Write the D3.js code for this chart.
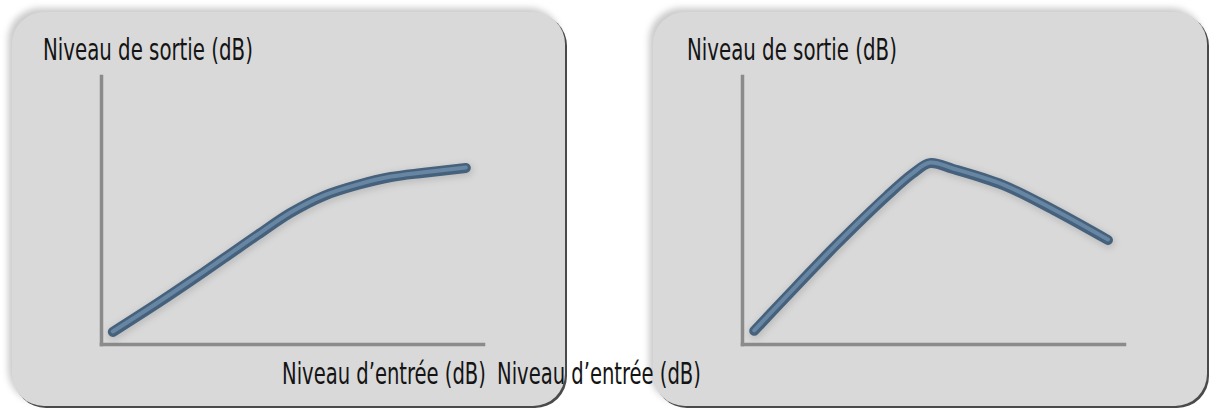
<!DOCTYPE html>
<html>
<head>
<meta charset="utf-8">
<script src="https://cdn.jsdelivr.net/npm/d3@7"></script>
<style>
  body { margin: 0; background: #fff; }
  .lbl { font-family: "Liberation Sans Narrow", "DejaVu Sans Condensed", "Roboto", sans-serif; font-size: 31px; fill: #141414; }
  .axis path { stroke: #8b8b8b; stroke-width: 3.5; }
</style>
</head>
<body>
<div id="chart"></div>
<script>
// labels
const yLabel = "Niveau de sortie (dB)";
const xLabel = "Niveau d’entrée (dB)";

// left panel: compression (input -> output, %)
const inputA = [3.1, 14.9, 23.6, 32.2, 41.1, 49.7, 58.4, 67.3, 75.9, 84.6, 95.5];
const outputA = [4.5, 15.3, 23.6, 32.0, 40.8, 49.0, 55.3, 59.4, 62.3, 63.9, 65.7];

// right panel: rises then falls
const inputB = [3.2, 11.6, 24.7, 37.9, 44.7, 49.2, 55.3, 68.4, 81.6, 95.8];
const outputB = [4.9, 17.6, 37.0, 55.2, 63.6, 67.5, 65.3, 59.3, 50.0, 38.8];

const W = 1209, H = 410;

const svg = d3.select("#chart").append("svg")
    .attr("width", W)
    .attr("height", H);

const defs = svg.append("defs");
defs.append("filter").attr("id", "soft")
    .attr("x", "-10%").attr("y", "-10%").attr("width", "120%").attr("height", "120%")
    .append("feGaussianBlur").attr("stdDeviation", 3);

// panel layout
let panels = [
    {px: 12, w: 553, xs: inputA, ys: outputA, yLabX: 43, xLabX: 282},
    {px: 653, w: 554, xs: inputB, ys: outputB, yLabX: 687, xLabX: 497}
];
const py = 12, ph = 394, radius = 32;
const axisBottom = 344, axisTop = 76;

// squeeze a label to a given width (the original uses a condensed face)
function narrowText(sel, x, y, str, width) {
    let t = sel.append("text")
        .attr("class", "lbl")
        .text(str);
    let natural = t.node().getComputedTextLength();
    t.attr("transform", `translate(${x},${y}) scale(${width / natural},1)`);
    return t;
}

// panel backgrounds
panels.forEach(p => {
    svg.append("rect")
        .attr("x", p.px - 4).attr("y", py - 4)
        .attr("width", p.w).attr("height", ph)
        .attr("rx", radius)
        .attr("fill", "#cbcbcb")
        .attr("filter", "url(#soft)");
    svg.append("rect")
        .attr("x", p.px + 2).attr("y", py + 2)
        .attr("width", p.w).attr("height", ph)
        .attr("rx", radius)
        .attr("fill", "#4a4a4a");
    svg.append("rect")
        .attr("x", p.px).attr("y", py)
        .attr("width", p.w).attr("height", ph)
        .attr("rx", radius)
        .attr("fill", "#d9d9d9");
});

panels.forEach(p => {
    let g = svg.append("g");

    let x0 = p.px + 89;
    let xScale = d3.scaleLinear().domain([0, 100]).range([x0, x0 + 382]);
    let yScale = d3.scaleLinear().domain([0, 100]).range([axisBottom, axisTop]);

    g.append("g")
        .attr("class", "axis")
        .attr("transform", `translate(0,${axisBottom})`)
        .call(d3.axisBottom(xScale).ticks(0).tickSizeOuter(0));
    g.append("g")
        .attr("class", "axis")
        .attr("transform", `translate(${x0},0)`)
        .call(d3.axisLeft(yScale).ticks(0).tickSizeOuter(0));
    g.selectAll(".axis path").attr("stroke-linecap", "square");

    let pts = p.xs.map((d, i) => [d, p.ys[i]]);
    let line = d3.line()
        .x(d => xScale(d[0]))
        .y(d => yScale(d[1]))
        .curve(d3.curveCatmullRom.alpha(0.5));

    // tube look: shadow, body, highlight
    g.append("path").datum(pts)
        .attr("d", line)
        .attr("transform", "translate(1,2)")
        .attr("fill", "none")
        .attr("stroke", "rgba(0,0,0,0.12)")
        .attr("stroke-width", 13)
        .attr("stroke-linecap", "round")
        .attr("filter", "url(#soft)");
    g.append("path").datum(pts)
        .attr("d", line)
        .attr("fill", "none")
        .attr("stroke", "#46617c")
        .attr("stroke-width", 10)
        .attr("stroke-linecap", "round")
        .attr("stroke-linejoin", "round");
    g.append("path").datum(pts)
        .attr("d", line)
        .attr("transform", "translate(0,-0.5)")
        .attr("fill", "none")
        .attr("stroke", "#6786a4")
        .attr("stroke-width", 4)
        .attr("stroke-linecap", "round")
        .attr("stroke-linejoin", "round");

    narrowText(g, p.yLabX, 60, yLabel, 210);
});

// x labels sit on top of both panels
panels.forEach(p => {
    narrowText(svg, p.xLabX, 384, xLabel, 204);
});
</script>
</body>
</html>
